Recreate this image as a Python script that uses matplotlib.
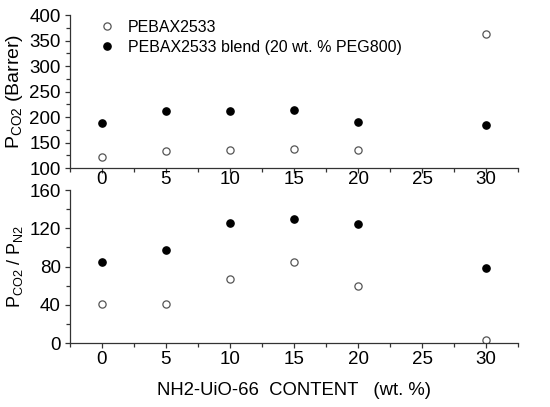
import matplotlib
matplotlib.use("Agg")
import matplotlib.pyplot as plt
from matplotlib.ticker import MultipleLocator

plt.rcParams['font.family'] = ['Liberation Sans', 'DejaVu Sans']
plt.rcParams['mathtext.fontset'] = 'custom'
plt.rcParams['mathtext.rm'] = 'Liberation Sans'
plt.rcParams['mathtext.it'] = 'Liberation Sans'

x = [0, 5, 10, 15, 20, 30]
pco2_pebax = [121, 134, 136, 138, 136, 363]
pco2_blend = [188, 211, 211, 213, 191, 184]
sel_pebax = [41, 41, 67, 85, 60, 3]
sel_blend = [85, 97, 126, 130, 125, 79]
xticks = [0, 5, 10, 15, 20, 25, 30]
labels = ['PEBAX2533', 'PEBAX2533 blend (20 wt. % PEG800)']

fig = plt.figure(figsize=(5.5, 4.07), dpi=100)
ax1 = fig.add_axes([0.127, 0.587, 0.815, 0.376])
ax2 = fig.add_axes([0.127, 0.157, 0.815, 0.376])

ms = 5.2
fs = 13.5
for ax, a, b in [(ax1, pco2_pebax, pco2_blend), (ax2, sel_pebax, sel_blend)]:
    ax.plot(x, a, 'o', ms=ms, mfc='white', mec='#555555', mew=0.9, ls='none', label=labels[0])
    ax.plot(x, b, 'o', ms=ms, mfc='black', mec='black', ls='none', label=labels[1])
    ax.set_xlim(-2.5, 32.5)
    ax.set_xticks(xticks)
    ax.xaxis.set_minor_locator(MultipleLocator(2.5))
    for s in ['top', 'right']:
        ax.spines[s].set_visible(False)
    for s in ['left', 'bottom']:
        ax.spines[s].set_color('#333333')
        ax.spines[s].set_linewidth(0.9)
    ax.tick_params(which='major', direction='out', length=3.5, width=0.9, labelsize=fs, color='#333333', pad=3)
    ax.tick_params(which='minor', direction='out', length=3, width=0.9, color='#333333')

ax1.tick_params(axis='x', which='major', pad=-1.5)
ax2.tick_params(axis='x', which='major', pad=2.5)

ax1.set_ylim(100, 400)
ax1.set_yticks([100, 150, 200, 250, 300, 350, 400])
ax1.yaxis.set_minor_locator(MultipleLocator(25))
ax1.set_ylabel(r'P$_{\mathregular{CO2}}$ (Barrer)', fontsize=14)
ax1.yaxis.set_label_coords(-0.10, 0.5)

ax2.set_ylim(0, 160)
ax2.set_yticks([0, 40, 80, 120, 160])
ax2.yaxis.set_minor_locator(MultipleLocator(20))
ax2.set_ylabel(r'P$_{\mathregular{CO2}}$ / P$_{\mathregular{N2}}$', fontsize=13)
ax2.yaxis.set_label_coords(-0.10, 0.5)
ax2.set_xlabel('NH2-UiO-66  CONTENT   (wt. %)', fontsize=13.3, labelpad=10)

ax1.legend(loc='upper left', bbox_to_anchor=(0.04, 1.03), frameon=False, fontsize=11.5,
           handletextpad=0.7, labelspacing=0.3, handlelength=1.2, borderaxespad=0.2)

fig.savefig('out.png', dpi=100)
